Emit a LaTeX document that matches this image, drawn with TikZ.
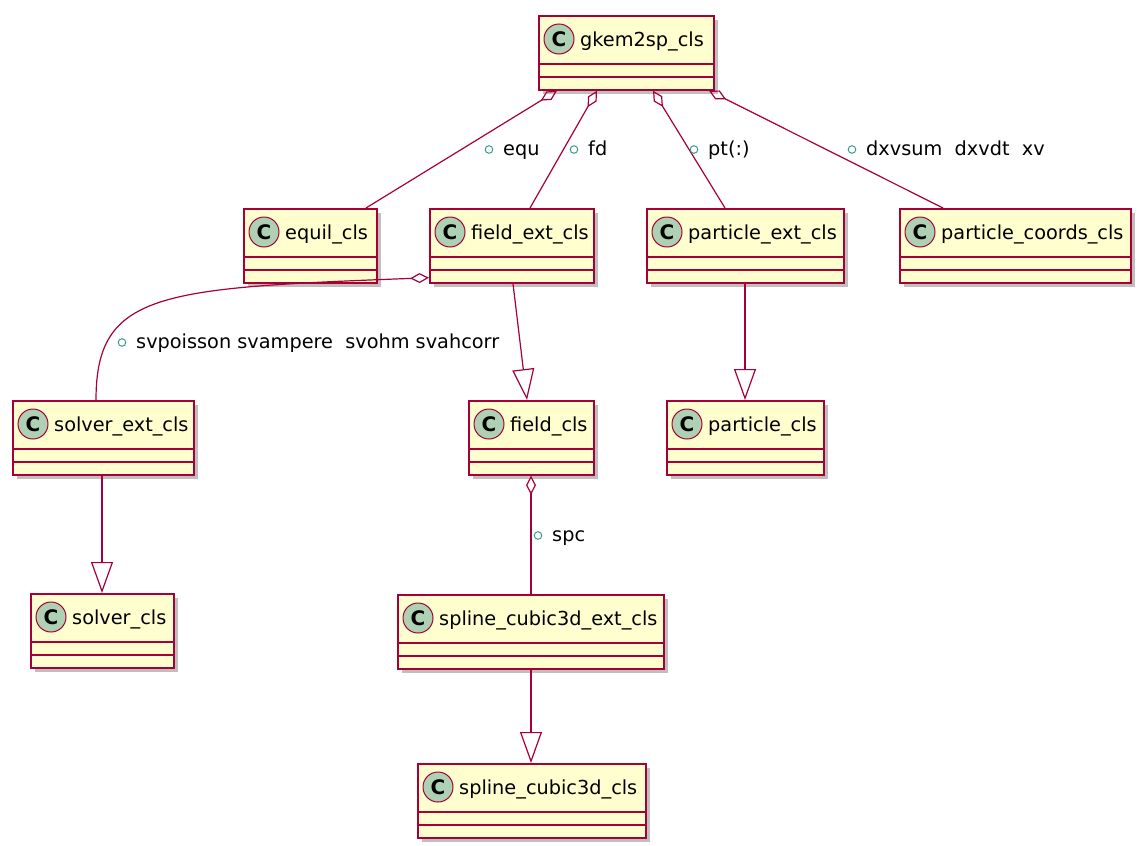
\documentclass[tikz,border=0pt]{standalone}
\usepackage{fontspec}
\setmainfont{DejaVu Sans}
\usetikzlibrary{arrows.meta, shadows}
\definecolor{UmlRed}{HTML}{A80036}
\definecolor{UmlFill}{HTML}{FEFECE}
\definecolor{UmlBadge}{HTML}{ADD1B2}
\definecolor{UmlField}{HTML}{3B9C8C}

\tikzset{
  classbox/.style={draw=UmlRed, fill=UmlFill, line width=1.7pt, minimum height=74pt,
    inner sep=0pt, anchor=north west,
    drop shadow={shadow xshift=4pt, shadow yshift=-4pt, fill=black, opacity=0.25}},
  badge/.style={circle, draw=UmlRed, fill=UmlBadge, line width=1pt, minimum size=30pt,
    inner sep=0pt, font=\fontsize{20}{20}\selectfont\bfseries},
  clsname/.style={anchor=base west, inner sep=0pt, font=\fontsize{19.3}{23}\selectfont},
  member/.style={anchor=base west, inner sep=0pt, font=\fontsize{19.3}{23}\selectfont},
  agg/.style={draw=UmlRed, line width=1.2pt, {Diamond[open, length=19pt, width=10pt]}-},
  inh/.style={draw=UmlRed, line width=1.2pt, -{Triangle[open, length=31pt, width=22pt]}},
}

\begin{document}
\begin{tikzpicture}[x=1pt, y=-1pt]
\useasboundingbox (0,0) rectangle (1146,846);
\foreach \n/\x/\y/\w/\lbl in {
    gk/538/15/175/gkem2sp\_cls,
    eq/243/208/133/equil\_cls,
    fe/429/208/164/field\_ext\_cls,
    pe/646/208/197/particle\_ext\_cls,
    pco/899/208/231/particle\_coords\_cls,
    se/12/400/181/solver\_ext\_cls,
    fc/468/400/125/field\_cls,
    pc/666/400/157/particle\_cls,
    sc/30/593/143/solver\_cls,
    spe/397/594/266/spline\_cubic3d\_ext\_cls,
    spc/417/763/228/spline\_cubic3d\_cls} {
  \node[classbox, minimum width=\w pt] (\n) at (\x,\y) {};
  \draw[UmlRed, line width=1.4pt] ([yshift=-49pt]\n.north west) -- ([yshift=-49pt]\n.north east);
  \draw[UmlRed, line width=1.4pt] ([yshift=-62pt]\n.north west) -- ([yshift=-62pt]\n.north east);
  \node[badge] (\n-b) at ([xshift=21pt, yshift=-24pt]\n.north west) {C};
  \node[clsname] (\n-t) at ([xshift=42pt, yshift=-31pt]\n.north west) {\lbl};
}

\draw[agg] ([xshift=19pt]gk.south west) -- ([xshift=123pt]eq.north west);
\draw[agg] ([xshift=59pt]gk.south west) -- ([xshift=101pt]fe.north west);
\draw[agg] ([xshift=115pt]gk.south west) -- ([xshift=79pt]pe.north west);
\draw[agg] ([xshift=171pt]gk.south west) -- ([xshift=44pt]pco.north west);
\draw[agg] ([yshift=6pt]fe.south west) .. controls (160,288) and (96,292) .. ([xshift=84pt]se.north west);
\draw[agg] ([xshift=63pt]fc.south west) -- ([xshift=134pt]spe.north west);
\draw[inh] ([xshift=84pt]fe.south west) -- ([xshift=59pt]fc.north west);
\draw[inh] ([xshift=99pt]pe.south west) -- ([xshift=79pt]pc.north west);
\draw[inh] ([xshift=90pt]se.south west) -- ([xshift=72pt]sc.north west);
\draw[inh] ([xshift=134pt]spe.south west) -- ([xshift=114pt]spc.north west);

\foreach \n/\x/\y/\lbl in {
    mequ/503/155/equ,
    mfd/588/155/fd,
    mpt/708/155/pt(:),
    mxv/866/155/dxvsum\ \ dxvdt\ \ xv,
    msv/136/348/svpoisson svampere\ \ svohm svahcorr,
    mspc/552/541/spc} {
  \node[member] (\n) at (\x,\y) {\lbl};
  \draw[UmlField, line width=1pt] ([xshift=-14pt, yshift=5.5pt]\n.base west) circle (3.8pt);
}
\end{tikzpicture}
\end{document}
